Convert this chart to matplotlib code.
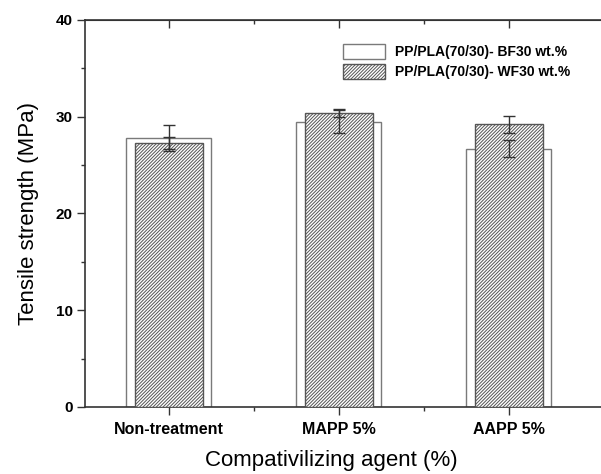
import matplotlib
matplotlib.use("Agg")
import matplotlib.pyplot as plt
import numpy as np
from matplotlib.ticker import MultipleLocator

plt.rcParams['font.family'] = ['Liberation Sans', 'DejaVu Sans']
plt.rcParams['hatch.linewidth'] = 0.7
plt.rcParams['hatch.color'] = '#505050'

# data
categories = ['Non-treatment', 'MAPP 5%', 'AAPP 5%']
bf30 = [27.8, 29.5, 26.7]
bf30_err = [1.3, 1.2, 0.85]
wf30 = [27.3, 30.4, 29.2]
wf30_err = [0.65, 0.45, 0.92]
series_names = ['PP/PLA(70/30)- BF30 wt.%', 'PP/PLA(70/30)- WF30 wt.%']

x = np.arange(1, len(categories) + 1)

fig = plt.figure(figsize=(6.01, 4.74), dpi=100)
ax = fig.add_axes([85 / 601, 67 / 474, 1 - 85 / 601, 387 / 474])

ax.bar(x, bf30, width=0.5, color='white', edgecolor='#7a7a7a',
       linewidth=1.0, label=series_names[0], zorder=2)
ax.bar(x, wf30, width=0.4, color='white', edgecolor='#555555',
       hatch='//////////', linewidth=1.0, label=series_names[1], zorder=3)
ax.errorbar(x, bf30, yerr=bf30_err, fmt='none', ecolor='#333333',
            elinewidth=1.0, capsize=4, capthick=1.0, zorder=4)
ax.errorbar(x, wf30, yerr=wf30_err, fmt='none', ecolor='#333333',
            elinewidth=1.0, capsize=4, capthick=1.0, zorder=4)

ax.set_xlim(0.508, 3.543)
ax.set_ylim(0, 40)
ax.set_xticks(x)
ax.set_xticklabels(categories, fontsize=11.5, fontweight='bold')
ax.set_xticks([1.5, 2.5], minor=True)
ax.yaxis.set_major_locator(MultipleLocator(10))
ax.yaxis.set_minor_locator(MultipleLocator(5))
for lab in ax.get_yticklabels():
    lab.set_fontweight('bold')
    lab.set_fontsize(11)

ax.tick_params(axis='x', which='major', direction='out', length=6,
               width=1.0, color='#333333', pad=5)
ax.tick_params(axis='y', which='major', direction='out', length=6,
               width=1.0, color='#333333', pad=3)
ax.tick_params(axis='both', which='minor', direction='out', length=3,
               width=1.0, color='#333333')

top = ax.secondary_xaxis('top')
top.set_xticks(x)
top.set_xticks([1.5, 2.5], minor=True)
top.tick_params(axis='x', which='major', direction='in', length=6,
                width=1.0, color='#333333', labeltop=False)
top.tick_params(axis='x', which='minor', direction='in', length=3,
                width=1.0, color='#333333')
top.spines['top'].set_color('#333333')

ax.spines['right'].set_visible(False)
for s in ['left', 'bottom', 'top']:
    ax.spines[s].set_color('#333333')
    ax.spines[s].set_linewidth(1.2)

ax.set_xlabel('Compativilizing agent (%)', fontsize=16)
ax.xaxis.set_label_coords(0.477, -0.112)
ax.set_ylabel('Tensile strength (MPa)', fontsize=16, labelpad=12)

ax.legend(loc='upper right', bbox_to_anchor=(0.964, 0.97), frameon=False,
          prop={'weight': 'bold', 'size': 10}, handlelength=3.0,
          handleheight=1.3, labelspacing=0.35, handletextpad=0.7)

fig.savefig('out.png', dpi=100)
